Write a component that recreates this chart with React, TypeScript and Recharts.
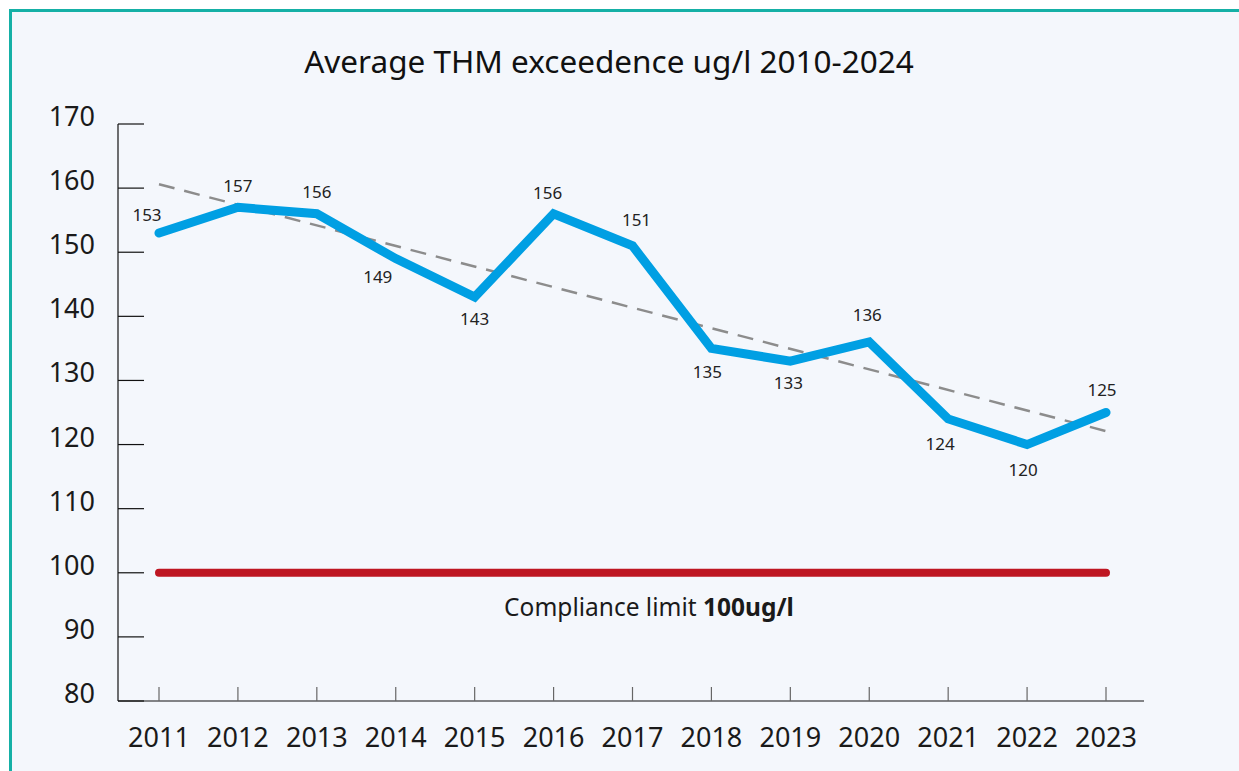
import { LineChart, Line, XAxis, YAxis, ReferenceLine, LabelList } from 'recharts';

const years = ['2011', '2012', '2013', '2014', '2015', '2016', '2017', '2018', '2019', '2020', '2021', '2022', '2023'];
const thmValues = [153, 157, 156, 149, 143, 156, 151, 135, 133, 136, 124, 120, 125];
const limitValues = [100, 100, 100, 100, 100, 100, 100, 100, 100, 100, 100, 100, 100];
const trendValues = [160.6, null, null, null, null, null, null, null, null, null, null, null, 122.1];
const yTicks = [80, 90, 100, 110, 120, 130, 140, 150, 160, 170];

// label offsets from each point (dx, dy of the text centre)
const labelOffsets: [number, number][] = [
  [-12, -18], [0, -21], [0, -22], [-18, 18], [0, 22], [-6, -21], [4, -26],
  [-4, 24], [-2, 22], [-2, -27], [-8, 25], [-4, 25], [-4, -23],
];

const data = years.map((year, i) => ({
  year,
  thm: thmValues[i],
  limit: limitValues[i],
  trend: trendValues[i],
}));

const FONT = '"Noto Sans", "Open Sans", sans-serif';

const YTick = ({ x, y, payload }: any) => (
  <g>
    <line x1={x} x2={x + 26} y1={y} y2={y} stroke="#111" strokeWidth={1.2} />
    <text x={x - 23} y={y + 2} textAnchor="end" fontSize={27} fill="#1a1a1a" fontFamily={FONT}>
      {payload.value}
    </text>
  </g>
);

const XTick = ({ x, y, payload }: any) => (
  <g>
    <line x1={x} x2={x} y1={y - 14} y2={y} stroke="#666" strokeWidth={1.2} />
    <text x={x} y={y + 46} textAnchor="middle" fontSize={27} fill="#1a1a1a" fontFamily={FONT}>
      {payload.value}
    </text>
  </g>
);

const PointLabel = ({ x, y, value, index }: any) => {
  const [dx, dy] = labelOffsets[index] || [0, -22];
  return (
    <text x={x + dx} y={y + dy + 6} textAnchor="middle" fontSize={17} fill="#222" fontFamily={FONT}>
      {value}
    </text>
  );
};

const LimitLabel = ({ viewBox }: any) => {
  const cx = viewBox.x + viewBox.width / 2 + 18;
  return (
    <text x={cx} y={viewBox.y + 43} textAnchor="middle" fontSize={24.5} fill="#1a1a1a" fontFamily={FONT}>
      Compliance limit <tspan fontWeight="bold">100ug/l</tspan>
    </text>
  );
};

export default function App() {
  return (
    <div style={{ position: 'fixed', left: 0, top: 0, width: 1239, height: 771, background: '#fff', overflow: 'hidden' }}>
      <div
        style={{
          position: 'absolute', left: 9, top: 9, width: 1260, height: 800,
          borderTop: '3px solid #15b0a6', borderLeft: '3px solid #15b0a6', background: '#f4f7fc',
        }}
      />
      <div
        style={{
          position: 'absolute', left: 0, top: 41, width: 1218, textAlign: 'center',
          fontFamily: FONT, fontSize: 31.5, color: '#111', lineHeight: '40px',
        }}
      >
        Average THM exceedence ug/l 2010-2024
      </div>
      <div style={{ position: 'absolute', left: 0, top: 0 }}>
        <LineChart width={1239} height={771} data={data} margin={{ top: 124, right: 95, left: 58, bottom: 0 }}>
          <XAxis
            dataKey="year"
            padding={{ left: 41, right: 38 }}
            axisLine={{ stroke: '#111', strokeWidth: 1.2 }}
            tickLine={false}
            tickSize={0}
            tickMargin={0}
            tick={<XTick />}
            interval={0}
            height={70}
          />
          <YAxis
            domain={[80, 170]}
            ticks={yTicks}
            width={60}
            axisLine={{ stroke: '#111', strokeWidth: 1.2 }}
            tickLine={false}
            tickSize={0}
            tickMargin={0}
            tick={<YTick />}
            interval={0}
          />
          <ReferenceLine y={100} stroke="none" label={<LimitLabel />} />
          <Line
            dataKey="limit"
            stroke="#be1622"
            strokeWidth={8}
            strokeLinecap="round"
            dot={false}
            activeDot={false}
            isAnimationActive={false}
          />
          <Line
            dataKey="trend"
            connectNulls
            stroke="#8c8c8c"
            strokeWidth={2.5}
            strokeDasharray="16 10"
            dot={false}
            activeDot={false}
            isAnimationActive={false}
          />
          <Line
            dataKey="thm"
            stroke="#009fe3"
            strokeWidth={9}
            strokeLinecap="round"
            dot={false}
            activeDot={false}
            isAnimationActive={false}
          >
            <LabelList dataKey="thm" content={<PointLabel />} />
          </Line>
        </LineChart>
      </div>
    </div>
  );
}
